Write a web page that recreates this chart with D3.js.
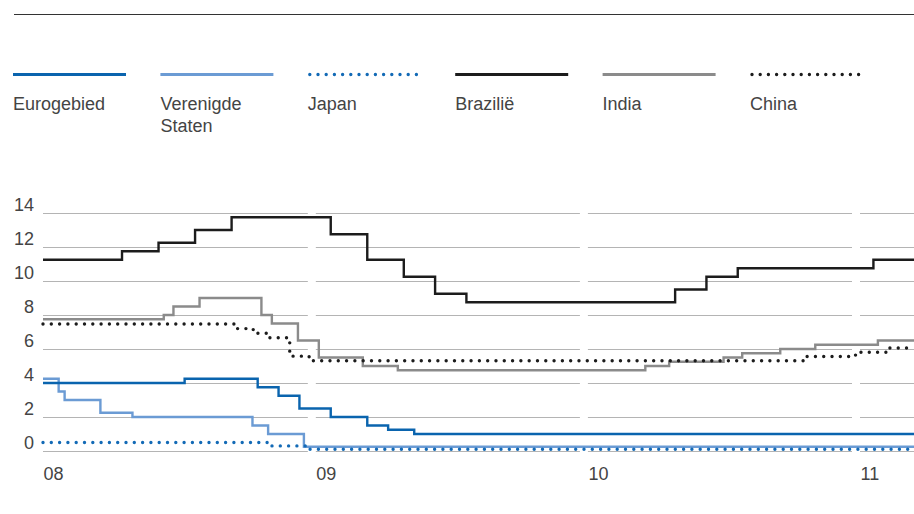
<!DOCTYPE html>
<html>
<head>
<meta charset="utf-8">
<script src="https://cdn.jsdelivr.net/npm/d3@7"></script>
<style>
  html, body { margin: 0; padding: 0; background: #fff; }
  svg text { font-family: "Liberation Sans", Arial, sans-serif; fill: #444; }
</style>
</head>
<body>
<svg id="chart" width="914" height="514"></svg>
<script>
// Beleidsrentes (%), stapsgewijze wijzigingen: [datum, nieuwe rente]
const eurogebied = [["2008-01-01", 4.00], ["2008-07-09", 4.25], ["2008-10-15", 3.75], ["2008-11-12", 3.25], ["2008-12-10", 2.50], ["2009-01-21", 2.00], ["2009-03-11", 1.50], ["2009-04-08", 1.25], ["2009-05-13", 1.00]];
const verenigdeStaten = [["2008-01-01", 4.25], ["2008-01-22", 3.50], ["2008-01-30", 3.00], ["2008-03-18", 2.25], ["2008-04-30", 2.00], ["2008-10-08", 1.50], ["2008-10-29", 1.00], ["2008-12-16", 0.25]];
const japan = [["2008-01-01", 0.50], ["2008-10-31", 0.30], ["2008-12-19", 0.10]];
const brazilie = [["2008-01-01", 11.25], ["2008-04-16", 11.75], ["2008-06-04", 12.25], ["2008-07-23", 13.00], ["2008-09-10", 13.75], ["2009-01-21", 12.75], ["2009-03-11", 11.25], ["2009-04-29", 10.25], ["2009-06-10", 9.25], ["2009-07-22", 8.75], ["2010-04-28", 9.50], ["2010-06-09", 10.25], ["2010-07-21", 10.75], ["2011-01-19", 11.25]];
const india = [["2008-01-01", 7.75], ["2008-06-11", 8.00], ["2008-06-24", 8.50], ["2008-07-29", 9.00], ["2008-10-20", 8.00], ["2008-11-03", 7.50], ["2008-12-08", 6.50], ["2009-01-05", 5.50], ["2009-03-05", 5.00], ["2009-04-21", 4.75], ["2010-03-19", 5.00], ["2010-04-20", 5.25], ["2010-07-02", 5.50], ["2010-07-27", 5.75], ["2010-09-16", 6.00], ["2010-11-02", 6.25], ["2011-01-25", 6.50]];
const china = [["2008-01-01", 7.47], ["2008-09-16", 7.20], ["2008-10-09", 6.93], ["2008-10-30", 6.66], ["2008-11-27", 5.58], ["2008-12-23", 5.31], ["2010-10-20", 5.56], ["2010-12-26", 5.81], ["2011-02-09", 6.06]];

const endDate = "2011-03-15";
const yearLabels = ["08", "09", "10", "11"];
const yearStarts = ["2008-01-01", "2009-01-01", "2010-01-01", "2011-01-01"];
const yTicks = [0, 2, 4, 6, 8, 10, 12, 14];

const seriesNames = ["Eurogebied", "Verenigde Staten", "Japan", "Brazilië", "India", "China"];
const seriesData = [eurogebied, verenigdeStaten, japan, brazilie, india, china];

const parse = d3.timeParse("%Y-%m-%d");
const colors = {
  "Eurogebied": "#0a64ae",
  "Verenigde Staten": "#6b9bd4",
  "Japan": "#136ab6",
  "Brazilië": "#1c1c1c",
  "India": "#8b8b8b",
  "China": "#1c1c1c"
};
const dotted = { "Japan": true, "China": true };

const svg = d3.select("#chart");

// bovenste lijn
svg.append("line")
  .attr("x1", 14).attr("x2", 914).attr("y1", 14.5).attr("y2", 14.5)
  .attr("stroke", "#333").attr("stroke-width", 1);

// legenda
const legend = svg.append("g");
seriesNames.forEach((name, i) => {
  const x0 = 13 + i * 147.4;
  const g = legend.append("g").attr("transform", `translate(${x0},0)`);
  const ln = g.append("line")
    .attr("x1", dotted[name] ? 2 : 0).attr("x2", 113)
    .attr("y1", 74.5).attr("y2", 74.5)
    .attr("stroke", colors[name]);
  if (dotted[name]) {
    ln.attr("stroke-width", 3.4).attr("stroke-linecap", "round").attr("stroke-dasharray", "0 8.2");
  } else {
    ln.attr("stroke-width", 3);
  }
  const words = name === "Verenigde Staten" ? ["Verenigde", "Staten"] : [name];
  words.forEach((w, j) => {
    g.append("text").attr("x", 0).attr("y", 110 + j * 21.5)
      .attr("font-size", 18).text(w);
  });
});

// schalen
const x = d3.scaleTime()
  .domain([parse("2008-01-01"), parse("2011-01-01")])
  .range([43, 860]);
const y = d3.scaleLinear().domain([0, 14]).range([451, 213]);

// rasterlijnen, per jaar onderbroken
const grid = svg.append("g");
const segStarts = yearStarts.map(parse);
segStarts.forEach((d, i) => {
  const xs = x(d);
  const xe = i < segStarts.length - 1 ? x(segStarts[i + 1]) - 8 : 914;
  yTicks.forEach(t => {
    grid.append("line")
      .attr("x1", xs).attr("x2", xe)
      .attr("y1", Math.round(y(t)) + 0.5).attr("y2", Math.round(y(t)) + 0.5)
      .attr("stroke", "#b4b4b4").attr("stroke-width", 1);
  });
});

// y-as labels
const yAxis = svg.append("g")
  .attr("transform", "translate(34,-8)")
  .call(d3.axisLeft(y).tickValues(yTicks).tickSize(0).tickPadding(0).tickFormat(d3.format("d")));
yAxis.select(".domain").remove();
yAxis.selectAll("text")
  .attr("font-family", null).attr("font-size", 18).attr("fill", null).attr("dy", "0.32em");

// x-as labels
const xAxis = svg.append("g")
  .attr("transform", "translate(0,467)")
  .call(d3.axisBottom(x).tickValues(segStarts).tickSize(0).tickPadding(0)
    .tickFormat((d, i) => yearLabels[i]));
xAxis.select(".domain").remove();
xAxis.selectAll("text")
  .attr("font-family", null).attr("font-size", 18).attr("fill", null)
  .attr("text-anchor", "start").attr("dy", "0.71em");

// lijnen
const line = d3.line()
  .x(d => x(d[0])).y(d => y(d[1]))
  .curve(d3.curveStepAfter);

const drawOrder = ["India", "Brazilië", "China", "Verenigde Staten", "Eurogebied", "Japan"];
const lines = svg.append("g");
drawOrder.forEach(name => {
  const raw = seriesData[seriesNames.indexOf(name)];
  const pts = raw.map(d => [parse(d[0]), d[1]]);
  pts.push([parse(endDate), raw[raw.length - 1][1]]);
  const p = lines.append("path")
    .attr("d", line(pts))
    .attr("fill", "none")
    .attr("stroke", colors[name]);
  if (dotted[name]) {
    p.attr("stroke-width", 3.4).attr("stroke-linecap", "round").attr("stroke-dasharray", "0 8.3");
  } else {
    p.attr("stroke-width", 2.4).attr("stroke-linejoin", "miter");
  }
});
</script>
</body>
</html>
